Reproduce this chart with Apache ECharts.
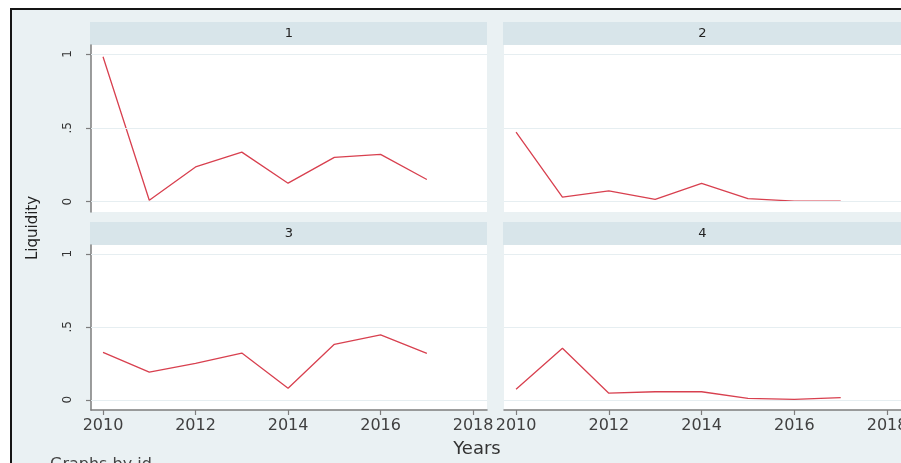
<!DOCTYPE html>
<html>
<head>
<meta charset="utf-8">
<style>
  html, body { margin: 0; padding: 0; background: #ffffff; overflow: hidden; }
  #chart { width: 901px; height: 463px; }
</style>
<script src="https://cdn.jsdelivr.net/npm/echarts@6/dist/echarts.min.js"></script>
</head>
<body>
<div id="chart"></div>
<script>
// Liquidity by year, one panel per id
const years = [2010, 2011, 2012, 2013, 2014, 2015, 2016, 2017];
const panelIds = ['1', '2', '3', '4'];
const liquidity1 = [0.98, 0.01, 0.235, 0.335, 0.125, 0.30, 0.32, 0.15];
const liquidity2 = [0.47, 0.03, 0.073, 0.015, 0.123, 0.02, 0.003, 0.003];
const liquidity3 = [0.325, 0.19, 0.25, 0.32, 0.079, 0.38, 0.444, 0.318];
const liquidity4 = [0.072, 0.353, 0.045, 0.055, 0.055, 0.01, 0.003, 0.015];
const xTickYears = [2010, 2012, 2014, 2016, 2018];
const yTickValues = [0, 0.5, 1];

const panelValues = [liquidity1, liquidity2, liquidity3, liquidity4];

// panel geometry (plot areas and their header strips)
const panels = [
  { left: 91,  top: 45,  width: 396, height: 167 },
  { left: 504, top: 45,  width: 397, height: 167 },
  { left: 91,  top: 245, width: 396, height: 165 },
  { left: 504, top: 245, width: 397, height: 165 }
];
const stripH = 23;
const textFont = 'DejaVu Sans';
const axisGray = '#7d7d7d';
const lineRed = '#d8404f';

const chart = echarts.init(document.getElementById('chart'), null, { renderer: 'canvas' });

const grids = panels.map(p => ({
  left: p.left, top: p.top, width: p.width, height: p.height,
  show: true, backgroundColor: '#ffffff', borderWidth: 0, borderColor: 'transparent',
  containLabel: false, outerBoundsMode: 'none'
}));

const xAxes = panels.map((p, i) => {
  const bottomRow = i >= 2;
  return {
    type: 'value', gridIndex: i, min: 2009.74, max: 2018.3,
    show: bottomRow,
    axisLine: { show: true, onZero: false, lineStyle: { color: axisGray, width: 1.5 } },
    axisTick: { show: true, length: 5, customValues: xTickYears, lineStyle: { color: axisGray, width: 1.2 } },
    axisLabel: {
      show: true, customValues: xTickYears, margin: 8,
      fontFamily: textFont, fontSize: 16, color: '#404040',
      formatter: v => String(v)
    },
    splitLine: { show: false }
  };
});

const yAxes = panels.map((p, i) => {
  const leftCol = i % 2 === 0;
  return {
    type: 'value', gridIndex: i, min: -0.07, max: 1.06,
    show: leftCol,
    axisLine: { show: true, lineStyle: { color: axisGray, width: 1.5 } },
    axisTick: { show: true, length: 5, customValues: yTickValues, lineStyle: { color: axisGray, width: 1.2 } },
    axisLabel: {
      show: true, customValues: yTickValues, rotate: 90, margin: 17,
      fontFamily: textFont, fontSize: 12, color: '#333333',
      formatter: v => String(v).replace(/^0\./, '.')
    },
    splitLine: { show: false }
  };
});

const series = [];
panelValues.forEach((vals, i) => {
  // light horizontal rules at the labelled levels
  series.push({
    type: 'line', xAxisIndex: i, yAxisIndex: i, data: [], z: 1, silent: true,
    markLine: {
      silent: true, symbol: 'none', label: { show: false },
      lineStyle: { color: '#e6eef1', width: 1, type: 'solid' },
      data: yTickValues.map(v => ({ yAxis: v }))
    }
  });
  series.push({
    name: 'Liquidity ' + panelIds[i],
    type: 'line', xAxisIndex: i, yAxisIndex: i, z: 3,
    data: years.map((y, k) => [y, vals[k]]),
    showSymbol: false, symbol: 'none',
    lineStyle: { color: lineRed, width: 1.3 },
    animation: false
  });
});

// header strips with panel ids
const stripGraphics = [];
panels.forEach((p, i) => {
  stripGraphics.push({
    type: 'rect', silent: true, z: 0,
    shape: { x: p.left - 1, y: p.top - stripH, width: p.width + 1, height: stripH },
    style: { fill: '#d8e5ea' }
  });
  stripGraphics.push({
    type: 'text', silent: true, z: 1,
    x: p.left + p.width / 2, y: p.top - stripH / 2,
    style: {
      text: panelIds[i], fontFamily: textFont, fontSize: 13, fill: '#222222',
      align: 'center', verticalAlign: 'middle'
    }
  });
});

const option = {
  backgroundColor: '#ffffff',
  animation: false,
  grid: grids,
  xAxis: xAxes,
  yAxis: yAxes,
  series: series,
  graphic: [
    // graph region fill and its top/left frame
    {
      type: 'rect', silent: true, z: -10,
      shape: { x: 11, y: 9, width: 890, height: 454 },
      style: { fill: '#eaf1f3' }
    },
    {
      type: 'rect', silent: true, z: -9,
      shape: { x: 10, y: 8, width: 891, height: 2 },
      style: { fill: '#151515' }
    },
    {
      type: 'rect', silent: true, z: -9,
      shape: { x: 10, y: 8, width: 2, height: 455 },
      style: { fill: '#151515' }
    },
    ...stripGraphics,
    {
      type: 'text', silent: true,
      x: 33, y: 228, rotation: Math.PI / 2,
      style: {
        text: 'Liquidity', fontFamily: textFont, fontSize: 15, fill: '#222222',
        align: 'center', verticalAlign: 'middle'
      }
    },
    {
      type: 'text', silent: true,
      x: 477, y: 449,
      style: {
        text: 'Years', fontFamily: textFont, fontSize: 18, fill: '#333333',
        align: 'center', verticalAlign: 'middle'
      }
    },
    {
      type: 'text', silent: true,
      x: 50, y: 457,
      style: {
        text: 'Graphs by id', fontFamily: textFont, fontSize: 16, fill: '#444444',
        align: 'left', verticalAlign: 'top'
      }
    }
  ]
};

chart.setOption(option);
</script>
</body>
</html>
